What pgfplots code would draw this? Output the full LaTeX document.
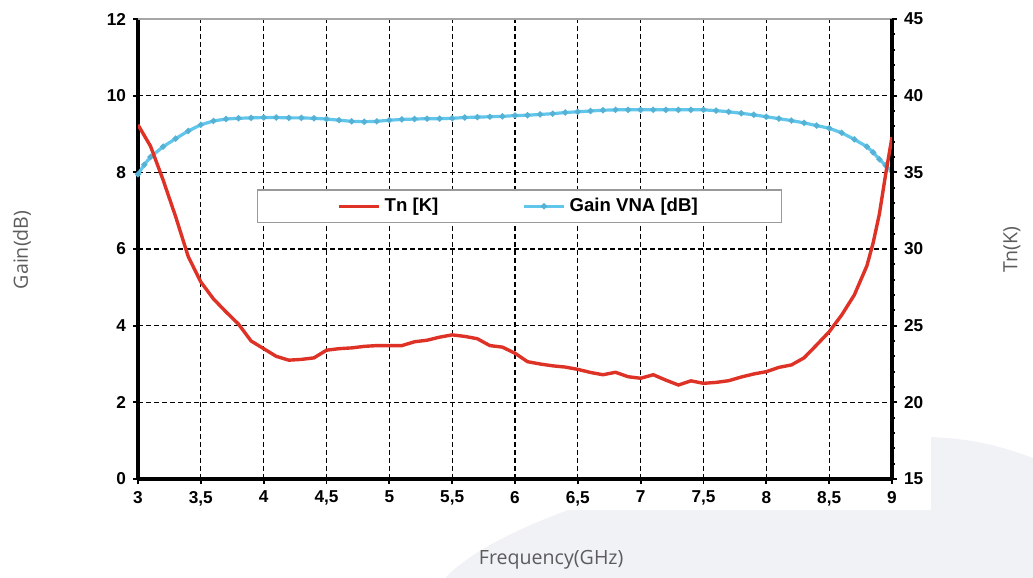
\documentclass[border=0pt]{standalone}
\usepackage{fontspec}
\setmainfont{Liberation Sans}
\newfontfamily\labelfont{Open Sans}
\usepackage{pgfplots}
\pgfplotsset{compat=1.18}

\definecolor{tnred}{RGB}{222,50,38}
\definecolor{gainblue}{RGB}{96,198,236}
\definecolor{labelgrey}{RGB}{92,92,92}
\definecolor{bgshape}{RGB}{241,242,246}

\pgfplotsset{
  twinaxis/.style={
    width=377pt, height=230pt, scale only axis,
    xmin=3, xmax=9,
    tick label style={font=\fontsize{8.6}{10}\selectfont\bfseries},
    /pgf/number format/assume math mode=true,
    /pgf/number format/use comma,
    tick align=outside,
    major tick length=2.5pt, minor tick length=1.5pt,
    tick style={black, line width=0.9pt},
    label style={font=\labelfont\fontsize{9.8}{12}\selectfont, text=labelgrey},
  },
  gainline/.style={color=gainblue, line width=1.6pt, mark=*, mark size=0.55pt,
    mark options={fill=gainblue!85!white, draw=gainblue!90!black}},
  tnline/.style={color=tnred, line width=1.7pt, no markers},
}

\begin{document}
\begin{tikzpicture}
\useasboundingbox (-69pt,-49.5pt) rectangle (447.5pt,239.5pt);
% slide decoration behind the chart
\fill[bgshape] (153.5pt,-49.5pt) .. controls (191pt,-10.5pt) and (331pt,19.5pt) .. (396.5pt,21pt)
  .. controls (421pt,20pt) and (435pt,15pt) .. (447.5pt,10.5pt) -- (447.5pt,-49.5pt) -- cycle;
\fill[white] (-69pt,-15.5pt) rectangle (396.5pt,239.5pt);

% gain, left axis
\begin{axis}[
  twinaxis,
  ymin=0, ymax=12,
  xtick={3,3.5,4,4.5,5,5.5,6,6.5,7,7.5,8,8.5,9},
  ytick={0,2,4,6,8,10,12},
  axis x line*=bottom, axis y line*=left,
  x axis line style={-, line width=1.6pt},
  y axis line style={-, line width=2pt},
  grid=major,
  grid style={black, line width=0.6pt, dash pattern=on 2.5pt off 1.5pt},
  xlabel={Frequency(GHz)},
  ylabel={Gain(dB)},
  xlabel style={at={(axis description cs:0.548,-0.176)}, anchor=center},
  ylabel style={at={(axis description cs:-0.154,0.498)}, anchor=center},
]
\addplot[gainline] coordinates {
  (3.0,7.95) (3.05,8.2) (3.1,8.4) (3.2,8.67) (3.3,8.88) (3.4,9.08) (3.5,9.24)
  (3.6,9.34) (3.7,9.39) (3.8,9.41) (3.9,9.42) (4.0,9.43) (4.1,9.43) (4.2,9.42)
  (4.3,9.42) (4.4,9.41) (4.5,9.39) (4.6,9.36) (4.7,9.33) (4.8,9.32) (4.9,9.33)
  (5.0,9.36) (5.1,9.38) (5.2,9.39) (5.3,9.40) (5.4,9.40) (5.5,9.41) (5.6,9.43)
  (5.7,9.44) (5.8,9.45) (5.9,9.46) (6.0,9.48) (6.1,9.49) (6.2,9.51) (6.3,9.53)
  (6.4,9.56) (6.5,9.58) (6.6,9.60) (6.7,9.62) (6.8,9.63) (6.9,9.63) (7.0,9.63)
  (7.1,9.63) (7.2,9.63) (7.3,9.63) (7.4,9.63) (7.5,9.63) (7.6,9.61) (7.7,9.58)
  (7.8,9.54) (7.9,9.50) (8.0,9.45) (8.1,9.40) (8.2,9.35) (8.3,9.29) (8.4,9.22)
  (8.5,9.15) (8.6,9.03) (8.7,8.86) (8.8,8.67) (8.85,8.52) (8.9,8.34) (8.95,8.18)
  (9.0,8.02)
};
\end{axis}

% noise temperature, right axis
\begin{axis}[
  twinaxis,
  ymin=15, ymax=45,
  xtick=\empty,
  ytick={15,20,25,30,35,40,45},
  minor y tick num=4,
  axis x line*=top, axis y line*=right,
  x axis line style={-, draw=gray!70, line width=0.6pt},
  y axis line style={-, line width=2pt},
  ylabel={Tn(K)},
  ylabel style={at={(axis description cs:1.159,0.498)}, anchor=center},
  legend columns=2,
  legend style={at={(axis description cs:0.506,0.593)}, anchor=center,
    draw=gray!80, line width=0.6pt, fill=white,
    font=\fontsize{9.3}{11}\selectfont\bfseries,
    inner xsep=40pt, inner ysep=2pt,
    /tikz/every even column/.append style={column sep=40pt}},
  legend image code/.code={\draw[mark repeat=2,mark phase=2,#1]
    plot coordinates {(0pt,0pt) (10pt,0pt) (20pt,0pt)};},
]
\addplot[tnline] coordinates {
  (3.0,38.1) (3.1,36.7) (3.2,34.5) (3.3,32.1) (3.4,29.5) (3.5,27.85) (3.6,26.75)
  (3.7,25.9) (3.8,25.1) (3.9,24.0) (4.0,23.5) (4.1,23.0) (4.2,22.75) (4.3,22.8)
  (4.4,22.9) (4.5,23.4) (4.6,23.5) (4.7,23.55) (4.8,23.65) (4.9,23.7) (5.0,23.7)
  (5.1,23.7) (5.2,23.95) (5.3,24.05) (5.4,24.25) (5.5,24.4) (5.6,24.3) (5.7,24.15)
  (5.8,23.7) (5.9,23.6) (6.0,23.2) (6.1,22.65) (6.2,22.5) (6.3,22.38) (6.4,22.3)
  (6.5,22.15) (6.6,21.95) (6.7,21.8) (6.8,21.96) (6.9,21.67) (7.0,21.57) (7.1,21.8)
  (7.2,21.45) (7.3,21.13) (7.4,21.4) (7.5,21.24) (7.6,21.3) (7.7,21.41) (7.8,21.65)
  (7.9,21.85) (8.0,22.0) (8.1,22.28) (8.2,22.44) (8.3,22.9) (8.4,23.74) (8.5,24.6)
  (8.6,25.7) (8.7,27.0) (8.8,28.9) (8.85,30.4) (8.9,32.3) (8.95,34.9) (9.0,37.3)
};
\addlegendentry{Tn [K]}
\addlegendimage{gainline}
\addlegendentry{Gain VNA [dB]}
\end{axis}
\end{tikzpicture}
\end{document}
